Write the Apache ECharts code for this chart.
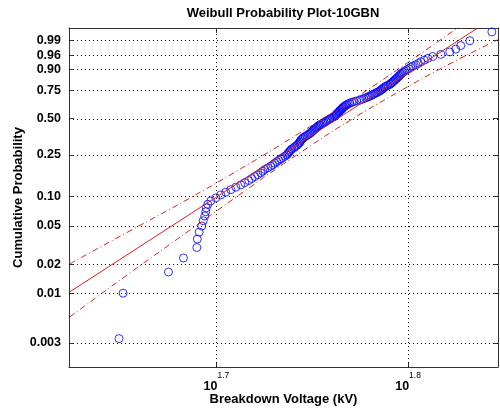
<!DOCTYPE html>
<html><head><meta charset="utf-8">
<script src="https://cdn.jsdelivr.net/npm/echarts@6/dist/echarts.min.js"></script>
<style>html,body{margin:0;padding:0;background:#fff}#c{width:500px;height:410px}</style>
</head><body><div id="c"></div>
<script>
// Breakdown voltages (kV), sorted ascending
const voltageKV = [
44.58,44.80,47.31,48.17,48.95,48.98,49.09,49.24,49.33,49.42,
49.48,49.51,49.60,49.78,50.08,50.38,50.68,50.99,51.30,51.61,
51.85,52.10,52.29,52.48,52.67,52.86,52.99,53.12,53.31,53.50,
53.63,53.76,53.89,54.02,54.15,54.28,54.41,54.54,54.60,54.67,
54.73,54.80,54.87,55.00,55.07,55.20,55.26,55.33,55.40,55.43,
55.46,55.53,55.60,55.66,55.76,55.87,55.97,56.07,56.13,56.20,
56.27,56.34,56.40,56.47,56.54,56.61,56.68,56.75,56.85,56.95,
57.05,57.16,57.22,57.33,57.43,57.50,57.60,57.71,57.78,57.85,
57.88,57.92,57.99,58.06,58.09,58.13,58.20,58.27,58.30,58.34,
58.41,58.48,58.55,58.62,58.72,58.83,58.97,59.11,59.32,59.54,
59.68,59.83,59.97,60.11,60.22,60.33,60.44,60.55,60.66,60.77,
60.88,60.99,61.06,61.14,61.21,61.28,61.36,61.47,61.58,61.73,
61.80,61.87,61.95,62.02,62.10,62.17,62.25,62.32,62.40,62.47,
62.55,62.62,62.74,62.85,63.00,63.15,63.30,63.46,63.69,63.88,
64.07,64.34,64.61,65.00,65.63,66.34,66.82,67.22,67.96,69.78
];
// Fitted Weibull line and confidence bounds: [kV, cumulative probability]
const fitLine    = [[42.02,0.01032],[68.61,0.99811]];
const upperBound = [[42.02,0.02028],[45.16,0.04447],[48.54,0.09607],[52.17,0.2093],[55.40,0.3884],[58.83,0.6509],[62.47,0.9061],[65.55,0.99044],[67.14,0.998548]];
const lowerBound = [[42.02,0.005631],[45.16,0.01625],[48.54,0.04533],[52.17,0.1228],[55.40,0.2609],[58.83,0.4848],[62.47,0.7413],[66.34,0.9276],[70.31,0.99117]];
// Axis ticks and ranges
const probTicks      = [0.003,0.01,0.02,0.05,0.10,0.25,0.50,0.75,0.90,0.96,0.99];
const probTickLabels = ['0.003','0.01','0.02','0.05','0.10','0.25','0.50','0.75','0.90','0.96','0.99'];
const xTickExponents = [1.7, 1.8];
const xRangeKV  = [41.98, 70.30];
const probRange = [0.001674, 0.998109];

const wb = p => Math.log(-Math.log(1 - p));   // Weibull probability scale
const lg = v => Math.log10(v);                 // log voltage scale
const n = voltageKV.length;
// plotting positions used by wblplot: (i - 0.5) / n
const points = voltageKV.map((v, i) => [lg(v), wb((i + 0.5) / n)]);
const toXY = arr => arr.map(d => [lg(d[0]), wb(d[1])]);
const yTickVals = probTicks.map(wb);

const FONT = '"Liberation Sans", Arial, Helvetica, sans-serif';
const RED = '#d42020';
const AX = '#333';
const xMin = lg(xRangeKV[0]), xMax = lg(xRangeKV[1]);
const yMin = wb(probRange[0]), yMax = wb(probRange[1]);
const boxX = {type: 'value', min: xMin, max: xMax, position: 'top',
  axisLine: {show: true, onZero: false, lineStyle: {color: AX}},
  axisTick: {show: true, inside: true, length: 5, customValues: xTickExponents, lineStyle: {color: AX}},
  axisLabel: {show: false}, splitLine: {show: false}};
const boxY = {type: 'value', min: yMin, max: yMax, position: 'right',
  axisLine: {show: true, onZero: false, lineStyle: {color: AX}},
  axisTick: {show: true, inside: true, length: 5, customValues: yTickVals, lineStyle: {color: AX}},
  axisLabel: {show: false}, splitLine: {show: false}};

const chart = echarts.init(document.getElementById('c'), null, {renderer: 'canvas'});
chart.setOption({
  animation: false,
  backgroundColor: '#fff',
  grid: {left: 69, top: 28, width: 429, height: 339, show: false, containLabel: false, outerBoundsMode: 'none'},
  graphic: [{
    type: 'text', x: 283, y: 13,
    style: {text: 'Weibull Probability Plot-10GBN', fontFamily: FONT, fontWeight: 'bold', fontSize: 13, fill: '#000', textAlign: 'center', textVerticalAlign: 'middle'}
  }],
  xAxis: [{
    type: 'value', min: xMin, max: xMax, position: 'bottom',
    axisLine: {show: true, onZero: false, lineStyle: {color: AX}},
    axisTick: {show: true, inside: true, length: 5, customValues: xTickExponents, lineStyle: {color: AX}},
    axisLabel: {
      customValues: xTickExponents, margin: 4,
      formatter: v => '{b|10}{s|' + v.toFixed(1) + '}',
      rich: {
        b: {fontFamily: FONT, fontWeight: 'bold', fontSize: 12.5, color: '#000', lineHeight: 22, verticalAlign: 'bottom'},
        s: {fontFamily: FONT, fontSize: 8.5, color: '#000', lineHeight: 10, verticalAlign: 'top'}
      }
    },
    splitLine: {show: false},
    name: 'Breakdown Voltage (kV)', nameLocation: 'middle', nameGap: 26, nameMoveOverlap: false,
    nameTextStyle: {fontFamily: FONT, fontWeight: 'bold', fontSize: 13, color: '#000'}
  }, boxX],
  yAxis: [{
    type: 'value', min: yMin, max: yMax, position: 'left',
    axisLine: {show: true, onZero: false, lineStyle: {color: AX}},
    axisTick: {show: true, inside: true, length: 5, customValues: yTickVals, lineStyle: {color: AX}},
    axisLabel: {
      customValues: yTickVals, margin: 8,
      fontFamily: FONT, fontWeight: 'bold', fontSize: 12.5, color: '#000',
      formatter: v => { const k = yTickVals.findIndex(t => Math.abs(t - v) < 1e-6); return k >= 0 ? probTickLabels[k] : ''; }
    },
    splitLine: {show: false},
    name: 'Cumulative Probability', nameLocation: 'middle', nameGap: 44, nameRotate: 90, nameMoveOverlap: false,
    nameTextStyle: {fontFamily: FONT, fontWeight: 'bold', fontSize: 13, color: '#000'}
  }, boxY],
  series: [
    {
      type: 'scatter', data: [], z: 1, silent: true,
      markLine: {
        silent: true, symbol: ['none', 'none'], label: {show: false}, animation: false,
        lineStyle: {type: [1, 3], color: '#000', width: 1},
        emphasis: {disabled: true},
        data: xTickExponents.map(v => ({xAxis: v})).concat(yTickVals.map(v => ({yAxis: v})))
      }
    },
    {
      type: 'scatter', data: points, z: 2, symbol: 'circle', symbolSize: 8,
      itemStyle: {color: 'rgba(0,0,0,0)', borderColor: '#0000ff', borderWidth: 1}
    },
    {type: 'line', data: toXY(fitLine), z: 3, showSymbol: false, clip: true, lineStyle: {color: RED, width: 1}},
    {type: 'line', data: toXY(upperBound), z: 3, smooth: true, showSymbol: false, clip: true, lineStyle: {color: RED, width: 1, type: [6, 3, 1, 3]}},
    {type: 'line', data: toXY(lowerBound), z: 3, smooth: true, showSymbol: false, clip: true, lineStyle: {color: RED, width: 1, type: [6, 3, 1, 3]}}
  ]
});
</script></body></html>
